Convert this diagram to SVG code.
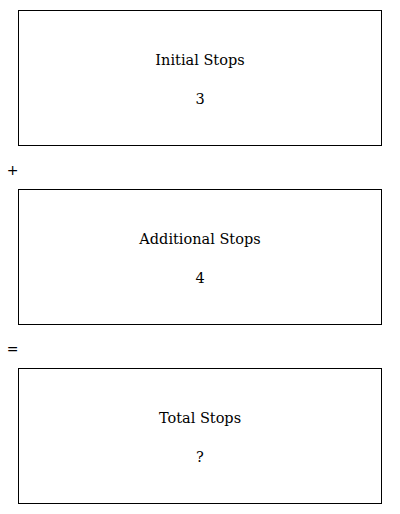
<svg xmlns="http://www.w3.org/2000/svg" width="400" height="514" viewBox="0 0 400 514">
<style>
.box{fill:#fff;stroke:#000;stroke-width:1}
.t{font-family:"DejaVu Serif","Liberation Serif",serif;font-size:14.5px;text-anchor:middle;fill:#000}
.op{font-family:"DejaVu Sans","Liberation Sans",sans-serif;font-size:14px;text-anchor:middle;fill:#000}
</style>
<rect width="400" height="514" fill="#fff"/>
<g id="initial">
<rect class="box" x="18.5" y="10.5" width="363" height="135"/>
<text class="t" x="200" y="65">Initial Stops</text>
<text class="t" x="200" y="104">3</text>
</g>
<g id="additional">
<rect class="box" x="18.5" y="189.5" width="363" height="135"/>
<text class="t" x="200" y="244">Additional Stops</text>
<text class="t" x="200" y="283">4</text>
</g>
<g id="total">
<rect class="box" x="18.5" y="368.5" width="363" height="135"/>
<text class="t" x="200" y="423">Total Stops</text>
<text class="t" x="200" y="462">?</text>
</g>
<g id="connectors">
<text class="op" x="12.5" y="175">+</text>
<text class="op" x="12.5" y="354">=</text>
</g>
</svg>
